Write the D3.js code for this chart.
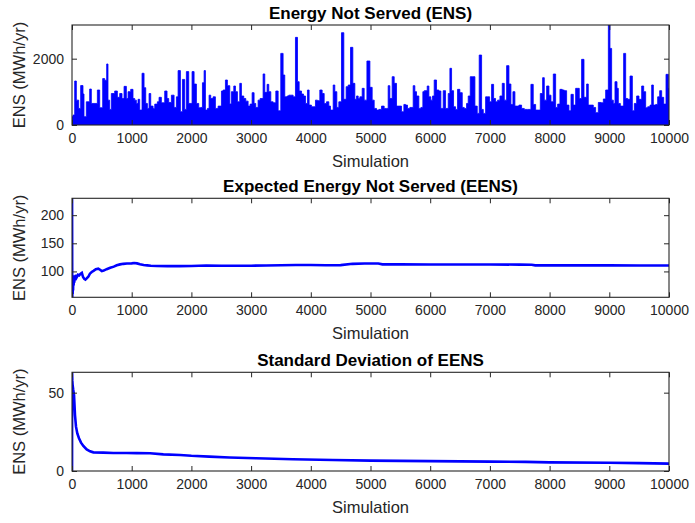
<!DOCTYPE html>
<html>
<head>
<meta charset="utf-8">
<script src="https://cdn.jsdelivr.net/npm/d3@7"></script>
<style>
  html, body { margin: 0; padding: 0; background: #fff; }
  svg { display: block; }
  text { font-family: "Liberation Sans", Arial, Helvetica, sans-serif; }
</style>
</head>
<body>
<svg id="fig" width="695" height="523"></svg>
<script>
// ---- Monte Carlo results: energy not served per simulation (envelope of the trace) ----
const ensSim = [0,17,45,73,112,145,184,201,240,296,324,352,425,464,514,547,581,603,631,659,715,760,799,838,872,911,939,983,1022,1050,1078,1106,1134,1173,1207,1235,1263,1291,1319,1358,1386,1430,1458,1497,1553,1592,1620,1665,1710,1749,1777,1816,1850,1888,1916,1955,2011,2045,2084,2123,2157,2185,2213,2235,2268,2296,2324,2363,2402,2447,2503,2531,2570,2603,2643,2670,2710,2738,2771,2810,2838,2877,2911,2950,2983,3017,3050,3078,3117,3151,3201,3229,3268,3296,3330,3369,3414,3453,3497,3536,3564,3604,3631,3665,3704,3743,3777,3805,3844,3877,3911,3944,3972,4011,4039,4078,4112,4151,4190,4224,4263,4302,4330,4375,4402,4436,4469,4514,4553,4592,4626,4665,4704,4738,4766,4794,4822,4861,4894,4940,4990,5028,5062,5101,5140,5184,5229,5268,5296,5324,5363,5397,5436,5475,5520,5559,5587,5620,5659,5715,5743,5771,5810,5844,5877,5900,5950,5978,6011,6039,6067,6106,6145,6179,6218,6257,6302,6330,6358,6391,6425,6458,6497,6537,6570,6609,6637,6671,6715,6749,6788,6821,6861,6889,6928,6961,6995,7028,7062,7095,7129,7168,7207,7241,7280,7319,7352,7386,7419,7458,7486,7531,7576,7631,7687,7726,7766,7810,7844,7883,7911,7950,7989,8023,8062,8101,8134,8173,8212,8246,8285,8324,8358,8397,8436,8470,8497,8536,8576,8620,8648,8693,8732,8771,8816,8861,8900,8939,8984,9011,9039,9067,9095,9129,9151,9185,9240,9274,9308,9347,9386,9419,9458,9497,9542,9576,9609,9643,9682,9710,9738,9777,9810,9844,9877,9911,9950,9989,10000];
const ensValue = [250,300,1327,750,500,1190,935,250,700,1085,650,650,1055,520,1400,1350,1840,750,470,950,1025,835,950,800,1165,800,1005,1075,800,750,650,775,450,1560,1125,650,500,950,570,500,630,700,835,670,1025,800,680,900,530,850,1640,400,1375,470,1610,650,1610,1235,650,520,530,1275,1640,450,500,900,800,850,500,570,1025,1055,1357,1186,633,1005,1176,1005,700,1256,875,800,720,570,630,975,650,530,750,800,1540,985,1226,1005,700,670,1025,430,2160,1508,850,875,900,900,850,2643,1306,1025,935,875,650,1055,600,550,550,750,735,1055,950,650,700,570,450,1206,1005,530,700,2784,775,1156,1206,2342,1256,775,875,800,850,1106,750,1930,1136,750,500,450,470,570,500,500,1186,800,1457,1256,570,570,400,620,600,500,530,1186,1005,875,500,530,1005,1035,1176,850,750,875,1357,1055,1025,500,1035,500,950,1710,1035,550,470,1075,975,530,500,650,875,1457,1457,570,350,2110,470,350,850,850,700,1226,800,700,750,875,1256,750,1790,1236,620,1005,570,570,600,500,470,470,1226,620,450,450,950,1427,750,1176,900,700,1538,530,630,1075,1055,1035,600,430,925,600,1106,1106,800,1980,835,1236,600,600,530,372,680,670,785,1055,3016,2310,750,650,1306,1106,650,570,2160,800,775,1477,430,650,875,775,1176,1005,520,550,600,1206,600,620,850,1035,835,630,1528,1106,1106];

// ---- Running mean of ENS (EENS) ----
const eensSim = [1,3,5,8,11,14,18,22,27,32,38,45,55,65,80,100,120,145,165,185,205,225,250,275,300,330,360,400,440,470,500,530,580,640,700,750,805,860,920,1000,1040,1090,1140,1200,1260,1320,1420,1600,1800,2000,2250,2500,2750,3000,3250,3500,3750,4000,4250,4500,4700,4900,5130,5200,5500,6000,6500,7000,7500,7700,7760,8000,8500,9000,9500,10000];
const eensValue = [230,120,54,72,60,88,66,92,75,93,80,91,84,94,90,94,93,96,97.5,90,87,85.5,88,91,96,99,101,104,105,103,100.5,101.5,104,106.5,108.5,111,112.5,113.5,114,114.3,115,114.3,112.8,111.3,110.8,110,109.7,109.5,109.5,109.6,110.5,110,110,110.2,110.5,111,111.3,111.5,111,111.2,113.5,114.2,114,112.6,112.5,112.3,112.2,112.3,112.1,112,110.8,110.7,110.7,110.7,110.6,110.6];

// ---- Standard deviation of the EENS estimate ----
const sdSim = [1,2,5,10,20,34,50,67,89,117,151,190,246,302,358,525,693,916,1084,1307,1530,1810,2000,2300,2637,3084,3698,4369,5000,6000,7000,7600,8000,9000,9500,10000];
const sdValue = [0,63,58,55,52,48.5,35.7,28.3,24,20.9,18.1,16,13.8,12.6,11.9,11.7,11.5,11.5,11.4,11.3,10.6,10.2,9.7,9.2,8.6,8.1,7.5,7.0,6.6,6.3,6.0,5.8,5.5,5.3,5.0,4.7];

// ---- Axis ticks and text ----
const simTicks = [0,1000,2000,3000,4000,5000,6000,7000,8000,9000,10000];
const ensTicks = [0,2000];
const eensTicks = [100,150,200];
const sdTicks = [0,50];
const titles = ["Energy Not Served (ENS)", "Expected Energy Not Served (EENS)", "Standard Deviation of EENS"];
const xLabel = "Simulation";
const yLabel = "ENS (MWh/yr)";

const svg = d3.select("#fig");
const left = 72, right = 669;
const panels = [
  { top: 25,    bottom: 125,   sims: ensSim,  vals: ensValue,  ticks: ensTicks,  kind: "area", yMin: 0 },
  { top: 198.3, bottom: 297.3, sims: eensSim, vals: eensValue, ticks: eensTicks, kind: "line" },
  { top: 372.3, bottom: 471,   sims: sdSim,   vals: sdValue,   ticks: sdTicks,   kind: "line" }
];

const axisColor = "#262626";
const blue = "#0000ff";
const tickLen = 5;

panels.forEach((p, i) => {
  const data = p.sims.map((s, k) => ({ s, v: p.vals[k] }));
  const x = d3.scaleLinear().domain([0, 10000]).range([left, right]);
  const ext = d3.extent(p.vals);
  // tight limits: the data range sets the y extent
  const y = d3.scaleLinear()
    .domain([p.yMin !== undefined ? p.yMin : ext[0], ext[1]])
    .range([p.bottom, p.top]);

  const g = svg.append("g");
  const clipId = "clip" + i;
  g.append("clipPath").attr("id", clipId)
    .append("rect").attr("x", left).attr("y", p.top)
    .attr("width", right - left).attr("height", p.bottom - p.top);

  const plot = g.append("g").attr("clip-path", `url(#${clipId})`);
  if (p.kind === "area") {
    const area = d3.area()
      .x(d => x(d.s)).y0(y(0)).y1(d => y(d.v))
      .curve(d3.curveStepAfter);
    plot.append("path").datum(data)
      .attr("d", area)
      .attr("fill", blue)
      .attr("stroke", blue)
      .attr("stroke-width", 0.8);
  } else {
    const line = d3.line().x(d => x(d.s)).y(d => y(d.v));
    plot.append("path").datum(data)
      .attr("d", line)
      .attr("fill", "none")
      .attr("stroke", blue)
      .attr("stroke-width", 2.6)
      .attr("stroke-linejoin", "miter");
  }

  // axes: ticks point inward on all four sides, labels only bottom/left
  const fmt = d3.format("d");
  const bottomAx = g.append("g").attr("transform", `translate(0,${p.bottom})`)
    .call(d3.axisBottom(x).tickValues(simTicks).tickFormat(fmt).tickSize(-tickLen).tickPadding(8));
  const topAx = g.append("g").attr("transform", `translate(0,${p.top})`)
    .call(d3.axisTop(x).tickValues(simTicks).tickFormat("").tickSize(-tickLen));
  const leftAx = g.append("g").attr("transform", `translate(${left},0)`)
    .call(d3.axisLeft(y).tickValues(p.ticks).tickFormat(fmt).tickSize(-tickLen).tickPadding(8));
  const rightAx = g.append("g").attr("transform", `translate(${right},0)`)
    .call(d3.axisRight(y).tickValues(p.ticks).tickFormat("").tickSize(-tickLen));

  [bottomAx, topAx, leftAx, rightAx].forEach(a => {
    a.select(".domain").remove();
    a.selectAll(".tick line").attr("stroke", axisColor).attr("stroke-width", 1);
    a.selectAll(".tick text").attr("fill", axisColor)
      .style("font-size", "14px")
      .style("font-family", '"Liberation Sans", Arial, sans-serif');
  });

  g.append("rect")
    .attr("x", left).attr("y", p.top)
    .attr("width", right - left).attr("height", p.bottom - p.top)
    .attr("fill", "none").attr("stroke", axisColor).attr("stroke-width", 1.1);

  g.append("text")
    .attr("x", (left + right) / 2).attr("y", p.top - 6.5)
    .attr("text-anchor", "middle")
    .style("font-size", "17px").style("font-weight", "bold")
    .attr("fill", "#000")
    .text(titles[i]);

  g.append("text")
    .attr("x", (left + right) / 2).attr("y", p.bottom + 42)
    .attr("text-anchor", "middle")
    .style("font-size", "16.5px")
    .attr("fill", axisColor)
    .text(xLabel);

  g.append("text")
    .attr("transform", `translate(25,${(p.top + p.bottom) / 2}) rotate(-90)`)
    .attr("text-anchor", "middle")
    .style("font-size", "16.5px")
    .attr("fill", axisColor)
    .text(yLabel);
});
</script>
</body>
</html>
